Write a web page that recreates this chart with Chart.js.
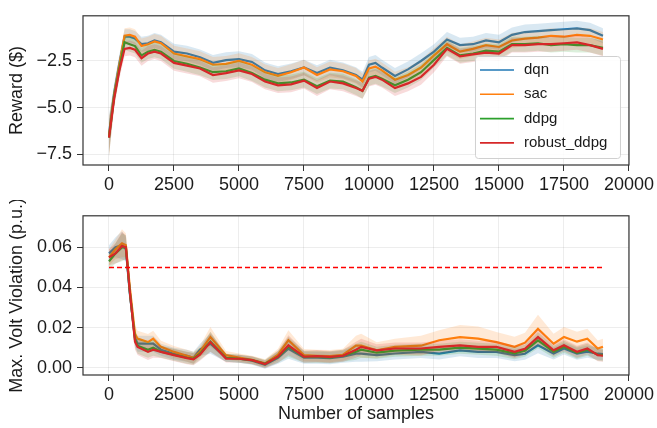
<!DOCTYPE html>
<html>
<head>
<meta charset="utf-8">
<script src="https://cdn.jsdelivr.net/npm/chart.js@4.4.1/dist/chart.umd.min.js"></script>
<style>
  html, body { margin: 0; padding: 0; background: #fff; }
  #wrap { position: relative; width: 657px; height: 428px; }
  .panel { position: absolute; left: 0; width: 657px; }
  #top { top: 0; height: 200px; }
  #bottom { top: 200px; height: 228px; }
</style>
</head>
<body>
<div id="wrap">
  <div class="panel" id="top"><canvas id="rewardChart"></canvas></div>
  <div class="panel" id="bottom"><canvas id="voltChart"></canvas></div>
</div>
<script>
// --- Data ---
const seriesNames = ['dqn', 'sac', 'ddpg', 'robust_ddpg'];
const seriesColors = ['#1f77b4', '#ff7f0e', '#2ca02c', '#d62728'];
const bandColors = ['rgba(31,119,180,0.17)', 'rgba(255,127,14,0.17)', 'rgba(44,160,44,0.17)', 'rgba(214,39,40,0.17)'];

const xTicks = [0, 2500, 5000, 7500, 10000, 12500, 15000, 17500, 20000];
const rewardTicks = [-7.5, -5.0, -2.5];
const rewardTickLabels = ['\u22127.5', '\u22125.0', '\u22122.5'];
const voltTicks = [0, 0.02, 0.04, 0.06];
const voltTickLabels = ['0.00', '0.02', '0.04', '0.06'];

// reward panel
const rewardX = [0, 200, 400, 600, 800, 1000, 1250, 1500, 1750, 2000, 2500, 3000, 3500, 4000, 4500, 5000, 5500, 6000, 6500, 7000,
  7500, 8000, 8500, 9000, 9500, 9750, 10000, 10250, 10500, 11000, 11500, 12000, 12500, 13000, 13500, 14000, 14500, 15000, 15500, 16000,
  16500, 17000, 17500, 18000, 18500, 19000];
const rewardDqn = [-6.4, -4.2, -2.6, -1.2, -1.2, -1.3, -1.6, -1.55, -1.4, -1.5, -2.0, -2.1, -2.3, -2.6, -2.45, -2.4, -2.55, -3.0, -3.2, -3.05,
  -2.85, -3.15, -2.85, -3.0, -3.25, -3.5, -2.7, -2.6, -2.85, -3.3, -2.95, -2.5, -2.0, -1.35, -1.65, -1.6, -1.4, -1.5, -1.1, -0.95,
  -0.9, -0.85, -0.8, -0.75, -0.85, -1.15];
const rewardSac = [-6.5, -4.3, -2.7, -1.15, -1.1, -1.2, -1.7, -1.6, -1.45, -1.55, -2.1, -2.25, -2.4, -2.7, -2.65, -2.5, -2.7, -3.1, -3.3, -3.1,
  -2.85, -3.25, -2.95, -3.05, -3.3, -3.6, -2.9, -2.8, -3.0, -3.5, -3.25, -2.85, -2.2, -1.6, -2.0, -1.85, -1.65, -1.75, -1.4, -1.3,
  -1.25, -1.15, -1.2, -1.1, -1.15, -1.35];
const rewardDdpg = [-6.6, -4.4, -2.9, -1.5, -1.6, -1.7, -2.2, -2.0, -1.9, -2.0, -2.5, -2.65, -2.85, -3.1, -3.05, -2.9, -3.15, -3.5, -3.7, -3.65,
  -3.5, -3.85, -3.55, -3.6, -3.9, -4.1, -3.4, -3.3, -3.45, -3.8, -3.5, -3.1, -2.45, -1.8, -2.2, -2.1, -1.95, -2.0, -1.6, -1.6,
  -1.55, -1.65, -1.6, -1.65, -1.65, -1.8];
const rewardRobust = [-6.6, -4.5, -3.0, -1.85, -1.8, -1.9, -2.35, -2.1, -2.0, -2.1, -2.6, -2.75, -2.9, -3.25, -3.15, -3.0, -3.2, -3.6, -3.8, -3.75,
  -3.55, -3.95, -3.6, -3.7, -3.95, -4.1, -3.45, -3.35, -3.5, -3.95, -3.7, -3.35, -2.7, -1.85, -2.25, -2.15, -2.05, -2.1, -1.65, -1.65,
  -1.6, -1.6, -1.55, -1.5, -1.65, -1.85];
const rewardStd = [1.0, 0.5, 0.45, 0.4, 0.4, 0.4, 0.4, 0.4, 0.4, 0.4, 0.42, 0.42, 0.42, 0.42, 0.42, 0.42, 0.42, 0.42, 0.42, 0.42,
  0.42, 0.42, 0.42, 0.42, 0.42, 0.42, 0.42, 0.42, 0.42, 0.42, 0.42, 0.42, 0.4, 0.4, 0.4, 0.4, 0.4, 0.4, 0.4, 0.4,
  0.4, 0.4, 0.4, 0.4, 0.4, 0.4];

// voltage violation panel
const voltX = [0, 250, 500, 650, 800, 1000, 1100, 1500, 1700, 2000, 2500, 3000, 3250, 3500, 3900, 4500, 5000, 5500, 6000, 6500,
  6900, 7500, 8000, 8500, 9000, 9500, 9700, 10300, 11000, 12000, 12700, 13500, 14200, 14900, 15600, 16000, 16500, 17100, 17500, 18000,
  18400, 18800, 19000];
const voltDqn = [0.057, 0.060, 0.061, 0.059, 0.037, 0.015, 0.012, 0.012, 0.012, 0.009, 0.007, 0.006, 0.005, 0.009, 0.012, 0.005, 0.0045, 0.0035, 0.0015, 0.005,
  0.0095, 0.005, 0.005, 0.0048, 0.0055, 0.007, 0.007, 0.0063, 0.0071, 0.0079, 0.0071, 0.0087, 0.0079, 0.0079, 0.0063, 0.007, 0.0112, 0.0071, 0.0096, 0.007,
  0.008, 0.007, 0.0068];
const voltSac = [0.055, 0.059, 0.062, 0.061, 0.040, 0.017, 0.0145, 0.0128, 0.0145, 0.0104, 0.0079, 0.006, 0.005, 0.008, 0.0153, 0.0063, 0.0051, 0.004, 0.0022, 0.0065,
  0.0137, 0.0063, 0.006, 0.0058, 0.0065, 0.011, 0.011, 0.0087, 0.0104, 0.011, 0.0137, 0.0153, 0.0145, 0.0128, 0.0104, 0.0125, 0.0194, 0.012, 0.0153, 0.013,
  0.0145, 0.0096, 0.0105];
const voltDdpg = [0.053, 0.057, 0.060, 0.060, 0.038, 0.014, 0.011, 0.009, 0.010, 0.008, 0.0065, 0.005, 0.0045, 0.007, 0.013, 0.005, 0.0045, 0.0038, 0.002, 0.0055,
  0.0105, 0.0055, 0.0055, 0.0052, 0.006, 0.008, 0.009, 0.0075, 0.0085, 0.009, 0.009, 0.01, 0.0095, 0.009, 0.0072, 0.0085, 0.0137, 0.008, 0.0105, 0.0075,
  0.009, 0.0065, 0.0063];
const voltRobust = [0.055, 0.057, 0.0606, 0.060, 0.038, 0.013, 0.0104, 0.0079, 0.009, 0.0079, 0.0063, 0.0048, 0.0042, 0.0065, 0.0128, 0.0046, 0.0045, 0.0038, 0.0018, 0.0055,
  0.0112, 0.0055, 0.0058, 0.0054, 0.006, 0.009, 0.0104, 0.0087, 0.0096, 0.0096, 0.0104, 0.0112, 0.0104, 0.0104, 0.0079, 0.0095, 0.0153, 0.0087, 0.0112, 0.008,
  0.0096, 0.0063, 0.006];
const voltStd = [0.004, 0.005, 0.007, 0.006, 0.005, 0.004, 0.004, 0.004, 0.004, 0.003, 0.003, 0.003, 0.003, 0.003, 0.005, 0.002, 0.002, 0.002, 0.002, 0.003,
  0.005, 0.003, 0.003, 0.003, 0.003, 0.004, 0.004, 0.003, 0.003, 0.003, 0.003, 0.003, 0.003, 0.003, 0.003, 0.003, 0.004, 0.003, 0.003, 0.003,
  0.003, 0.003, 0.003];
const voltStdSac = [0.004, 0.005, 0.007, 0.006, 0.005, 0.004, 0.004, 0.004, 0.004, 0.003, 0.003, 0.003, 0.003, 0.003, 0.005, 0.002, 0.002, 0.002, 0.002, 0.003,
  0.005, 0.003, 0.003, 0.003, 0.003, 0.005, 0.006, 0.004, 0.004, 0.005, 0.005, 0.006, 0.006, 0.005, 0.005, 0.005, 0.007, 0.005, 0.005, 0.005,
  0.005, 0.004, 0.004];

const thresholdX = [0, 19000];
const thresholdY = 0.05;

// --- Helpers ---
Chart.defaults.font.family = "'Liberation Sans', Arial, Helvetica, sans-serif";
Chart.defaults.color = '#1a1a1a';

function buildDatasets(xs, series, stds) {
  const sets = [];
  series.forEach((ys, i) => {
    sets.push({
      data: xs.map((x, k) => ({ x: x, y: ys[k] + stds[i][k] })),
      borderWidth: 0, pointRadius: 0, fill: false
    });
    sets.push({
      data: xs.map((x, k) => ({ x: x, y: ys[k] - stds[i][k] })),
      borderWidth: 0, pointRadius: 0, fill: '-1', backgroundColor: bandColors[i]
    });
    sets.push({
      label: seriesNames[i],
      data: xs.map((x, k) => ({ x: x, y: ys[k] })),
      borderColor: seriesColors[i], borderWidth: 2.2, pointRadius: 0, fill: false
    });
  });
  // first dataset drawn first, last on top
  sets.forEach((s, k) => { s.order = sets.length - k + 1; });
  return sets;
}

const gridStyle = { color: 'rgba(0,0,0,0.07)', tickColor: '#333', tickLength: 6 };

function xScale(axisHeight, title) {
  return {
    type: 'linear', min: -1000, max: 20000,
    afterBuildTicks: s => { s.ticks = xTicks.map(v => ({ value: v })); },
    afterFit: s => { s.height = axisHeight; },
    ticks: { font: { size: 18 }, padding: 3, maxRotation: 0, autoSkip: false, callback: v => String(v) },
    grid: gridStyle,
    border: { display: false },
    title: { display: !!title, text: title || '', font: { size: 18 }, padding: { top: 0, bottom: 3 } }
  };
}

function yScale(min, max, tickVals, tickLabels, title) {
  return {
    type: 'linear', min: min, max: max,
    afterBuildTicks: s => { s.ticks = tickVals.map(v => ({ value: v })); },
    afterFit: s => { s.width = 83; },
    ticks: { font: { size: 18 }, padding: 5, callback: v => tickLabels[tickVals.indexOf(v)] },
    grid: gridStyle,
    border: { display: false },
    title: { display: true, text: title, font: { size: 18 }, padding: { top: 6, bottom: 0 } }
  };
}

// axes frame on all four sides
const framePlugin = {
  id: 'frame',
  afterDraw(chart) {
    const { ctx, chartArea: a } = chart;
    ctx.save();
    ctx.strokeStyle = '#333';
    ctx.lineWidth = 1.2;
    ctx.strokeRect(a.left, a.top, a.right - a.left, a.bottom - a.top);
    ctx.restore();
  }
};

// legend box in the lower right of the chart area
const legendBoxPlugin = {
  id: 'legendBox',
  afterDraw(chart, args, opts) {
    if (!opts.show) return;
    const { ctx, chartArea: a } = chart;
    const w = 145, h = 102;
    const x0 = a.right - 9 - w, y0 = a.bottom - 7 - h;
    ctx.save();
    ctx.beginPath();
    ctx.roundRect(x0 + 0.5, y0 + 0.5, w, h, 3);
    ctx.fillStyle = 'rgba(255,255,255,0.85)';
    ctx.fill();
    ctx.strokeStyle = '#d0d0d0';
    ctx.lineWidth = 1;
    ctx.stroke();
    ctx.font = "15px 'Liberation Sans', Arial, sans-serif";
    ctx.textBaseline = 'middle';
    seriesNames.forEach((name, i) => {
      const y = y0 + 14 + i * 24.3;
      ctx.beginPath();
      ctx.moveTo(x0 + 5, y);
      ctx.lineTo(x0 + 39, y);
      ctx.strokeStyle = seriesColors[i];
      ctx.lineWidth = 1.6;
      ctx.stroke();
      ctx.fillStyle = '#1a1a1a';
      ctx.fillText(name, x0 + 49, y);
    });
    ctx.restore();
  }
};

// --- Reward chart ---
new Chart(document.getElementById('rewardChart'), {
  type: 'line',
  data: {
    datasets: buildDatasets(rewardX,
      [rewardDqn, rewardSac, rewardDdpg, rewardRobust],
      [rewardStd, rewardStd, rewardStd, rewardStd])
  },
  options: {
    responsive: true,
    maintainAspectRatio: false,
    animation: false,
    layout: { padding: { top: 7, right: 25, left: 0, bottom: 0 } },
    plugins: { legend: { display: false }, tooltip: { enabled: false }, legendBox: { show: true } },
    scales: {
      x: xScale(35, null),
      y: yScale(-8.07, -0.08, rewardTicks, rewardTickLabels, 'Reward ($)')
    }
  },
  plugins: [framePlugin, legendBoxPlugin]
});

// --- Voltage violation chart ---
const voltSets = buildDatasets(voltX,
  [voltDqn, voltSac, voltDdpg, voltRobust],
  [voltStd, voltStdSac, voltStd, voltStd]);
voltSets.push({
  label: 'limit',
  data: thresholdX.map(x => ({ x: x, y: thresholdY })),
  borderColor: '#ff0000', borderWidth: 1.5, borderDash: [5, 3],
  pointRadius: 0, fill: false, order: 0
});

new Chart(document.getElementById('voltChart'), {
  type: 'line',
  data: { datasets: voltSets },
  options: {
    responsive: true,
    maintainAspectRatio: false,
    animation: false,
    layout: { padding: { top: 15, right: 25, left: 0, bottom: 0 } },
    plugins: { legend: { display: false }, tooltip: { enabled: false }, legendBox: { show: false } },
    scales: {
      x: xScale(53, 'Number of samples'),
      y: yScale(-0.0036, 0.0757, voltTicks, voltTickLabels, 'Max. Volt Violation (p.u.)')
    }
  },
  plugins: [framePlugin, legendBoxPlugin]
});
</script>
</body>
</html>
